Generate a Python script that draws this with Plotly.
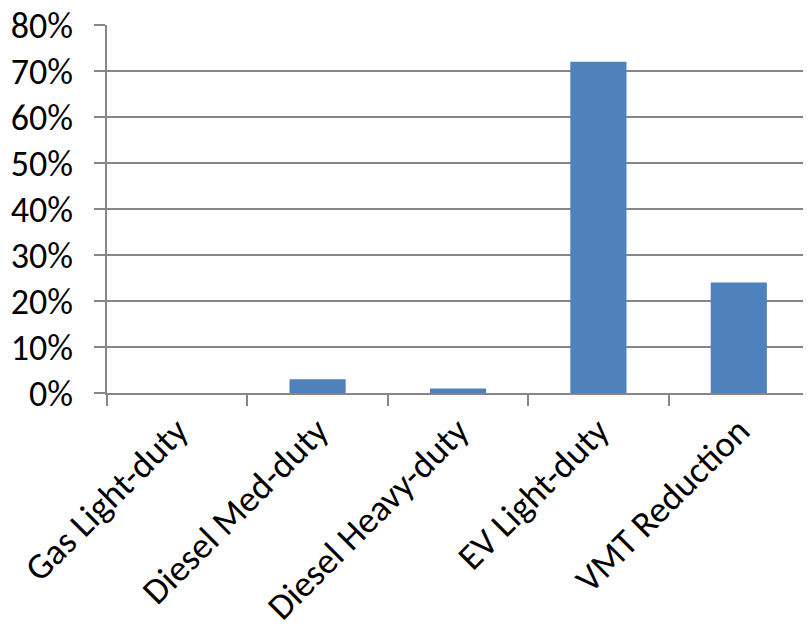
import plotly.graph_objects as go

categories = ["Gas Light-duty", "Diesel Med-duty", "Diesel Heavy-duty", "EV Light-duty", "VMT Reduction"]
values = [0.0, 0.03, 0.01, 0.72, 0.24]
y_ticks = [0, 0.1, 0.2, 0.3, 0.4, 0.5, 0.6, 0.7, 0.8]
y_tick_labels = ["0%", "10%", "20%", "30%", "40%", "50%", "60%", "70%", "80%"]

FONT = "Carlito, Calibri, Lato, sans-serif"
GRID = "#868686"

fig = go.Figure(go.Bar(
    x=categories, y=values, width=0.4,
    marker=dict(color="#4F81BD", line=dict(width=0)),
))

# page has an 8px body margin, so the figure is sized to fit the 811x634 window
fig.update_layout(
    width=803, height=626,
    margin=dict(l=99, r=2, t=17, b=241),
    paper_bgcolor="white", plot_bgcolor="white",
    showlegend=False,
    font=dict(family=FONT, size=36, color="black"),
)
fig.update_yaxes(
    range=[0, 0.8], tickvals=y_ticks, ticktext=y_tick_labels,
    showgrid=True, gridcolor=GRID, gridwidth=1.5,
    showline=True, linecolor=GRID, linewidth=1.5,
    ticks="outside", ticklen=11, tickcolor=GRID, tickwidth=1.5,
    ticklabelstandoff=14, ticklabeloverflow="allow",
    zeroline=False, automargin=False,
    tickfont=dict(family=FONT, size=36, color="black"),
)
fig.update_xaxes(
    showline=True, linecolor=GRID, linewidth=1.5,
    ticks="outside", ticklen=11, tickcolor=GRID, tickwidth=1.5,
    tickson="boundaries", tickangle=-45, showgrid=False, automargin=False,
    ticklabeloverflow="allow",
    tickfont=dict(family=FONT, size=36.5, color="black"),
)

fig.write_html("out.html")
